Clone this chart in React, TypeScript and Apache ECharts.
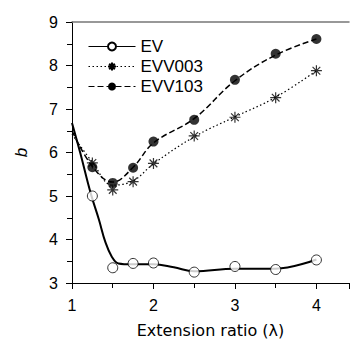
import React, { useEffect, useRef } from "react";
import * as echarts from "echarts";

// Measured points
const lambdaPts = [1.25, 1.5, 1.75, 2, 2.5, 3, 3.5, 4];
const evPts = [5.0, 3.35, 3.45, 3.46, 3.25, 3.38, 3.31, 3.53];
const evv003Pts = [5.76, 5.14, 5.33, 5.75, 6.38, 6.81, 7.26, 7.88];
const evv103Pts = [5.66, 5.3, 5.65, 6.25, 6.75, 7.67, 8.27, 8.61];

// Fitted curves
const evFitX = [1.0, 1.1, 1.23, 1.33, 1.41, 1.49, 1.57, 1.73, 2.0, 2.25, 2.5, 3.0, 3.5, 4.0];
const evFitY = [6.68, 6.0, 5.06, 4.46, 3.94, 3.6, 3.45, 3.43, 3.43, 3.36, 3.27, 3.33, 3.33, 3.54];
const evv003FitX = [1.0, 1.25, 1.5, 1.75, 2.0, 2.5, 3.0, 3.5, 4.0];
const evv003FitY = [6.42, 5.78, 5.25, 5.35, 5.74, 6.36, 6.82, 7.27, 7.88];
const evv103FitX = [1.0, 1.25, 1.5, 1.75, 2.0, 2.5, 3.0, 3.5, 4.0];
const evv103FitY = [6.5, 5.68, 5.32, 5.66, 6.22, 6.78, 7.65, 8.24, 8.61];

const xTicks = [1, 2, 3, 4];
const yTicks = [3, 4, 5, 6, 7, 8, 9];

const asterisk =
  "path://M5,0L5,10M0,5L10,5M1.5,1.5L8.5,8.5M1.5,8.5L8.5,1.5";

const FONT = "'Liberation Sans', Arial, Helvetica, sans-serif";

function zip(xs: number[], ys: number[]) {
  return xs.map((x, i) => [x, ys[i]]);
}

export default function App() {
  const ref = useRef<HTMLDivElement>(null);
  useEffect(() => {
    if (!ref.current) return;
    const chart = echarts.init(ref.current, undefined, { renderer: "svg" });
    chart.setOption({
      animation: false,
      backgroundColor: "#fff",
      textStyle: { fontFamily: FONT },
      grid: { left: 72, right: 0, top: 22, bottom: 55 },
      legend: {
        left: 83,
        top: 33,
        orient: "vertical",
        itemWidth: 47,
        itemHeight: 10,
        itemGap: 3,
        data: ["EV", "EVV003", "EVV103"],
        lineStyle: { width: 1 },
        textStyle: { fontSize: 17, color: "#000", fontFamily: FONT },
      },
      xAxis: [
        {
          type: "value",
          min: 1,
          max: 4.4,
          interval: 1,
          position: "bottom",
          name: "Extension ratio (\u03bb)",
          nameLocation: "middle",
          nameGap: 39,
          nameTextStyle: { fontSize: 16, color: "#000", fontFamily: "'DejaVu Sans', sans-serif" },
          axisLine: { show: true, onZero: false, lineStyle: { color: "#000", width: 1 } },
          axisTick: { show: true, inside: false, length: 6, lineStyle: { color: "#000" } },
          minorTick: { show: true, splitNumber: 2, length: 5, lineStyle: { color: "#000" } },
          axisLabel: {
            fontSize: 16,
            color: "#000",
            margin: 14,
            formatter: (v: number) => (xTicks.includes(v) ? String(v) : ""),
          },
          splitLine: { show: false },
        },
        {
          type: "value",
          min: 1,
          max: 4.4,
          position: "top",
          axisLine: { show: true, onZero: false, lineStyle: { color: "#777", width: 1.5 } },
          axisTick: { show: false },
          axisLabel: { show: false },
          splitLine: { show: false },
        },
      ],
      yAxis: {
        type: "value",
        min: 3,
        max: 9,
        interval: 1,
        name: "b",
        nameLocation: "middle",
        nameGap: 42,
        nameTextStyle: { fontSize: 17, fontStyle: "italic", color: "#000", fontFamily: FONT },
        axisLine: { show: true, onZero: false, lineStyle: { color: "#000", width: 1 } },
        axisTick: { show: true, inside: false, length: 6, lineStyle: { color: "#000" } },
        minorTick: { show: true, splitNumber: 2, length: 5, lineStyle: { color: "#000" } },
        axisLabel: {
          fontSize: 16,
          color: "#000",
          margin: 14,
          formatter: (v: number) => (yTicks.includes(v) ? String(v) : ""),
        },
        splitLine: { show: false },
      },
      series: [
        {
          name: "EV",
          type: "line",
          data: zip(evFitX, evFitY),
          smooth: 0.4,
          symbol: "emptyCircle",
          showSymbol: false,
          lineStyle: { color: "#000", width: 2, type: "solid" },
          itemStyle: { color: "#000", borderColor: "#000" },
          z: 2,
        },
        {
          name: "EV",
          type: "scatter",
          data: zip(lambdaPts, evPts),
          symbol: "circle",
          symbolSize: 10,
          itemStyle: { color: "#fff", borderColor: "#000", borderWidth: 1 },
          z: 3,
        },
        {
          name: "EVV003",
          type: "line",
          data: zip(evv003FitX, evv003FitY),
          smooth: 0.4,
          symbol: asterisk,
          showSymbol: false,
          lineStyle: { color: "#000", width: 1.2, type: [1.5, 2.5] },
          itemStyle: { color: "#000", borderColor: "#000", borderWidth: 1 },
          z: 2,
        },
        {
          name: "EVV003",
          type: "scatter",
          data: zip(lambdaPts, evv003Pts),
          symbol: asterisk,
          symbolSize: 11,
          itemStyle: { color: "none", borderColor: "#000", borderWidth: 1.2 },
          z: 3,
        },
        {
          name: "EVV103",
          type: "line",
          data: zip(evv103FitX, evv103FitY),
          smooth: 0.4,
          symbol: "circle",
          showSymbol: false,
          lineStyle: { color: "#000", width: 1.5, type: [6, 3] },
          itemStyle: { color: "#000" },
          z: 2,
        },
        {
          name: "EVV103",
          type: "scatter",
          data: zip(lambdaPts, evv103Pts),
          symbol: "circle",
          symbolSize: 10,
          itemStyle: { color: "#000" },
          z: 3,
        },
      ],
    });
    return () => chart.dispose();
  }, []);
  return (
    <div
      ref={ref}
      style={{ position: "fixed", left: 0, top: 0, width: 352, height: 343 }}
    />
  );
}
